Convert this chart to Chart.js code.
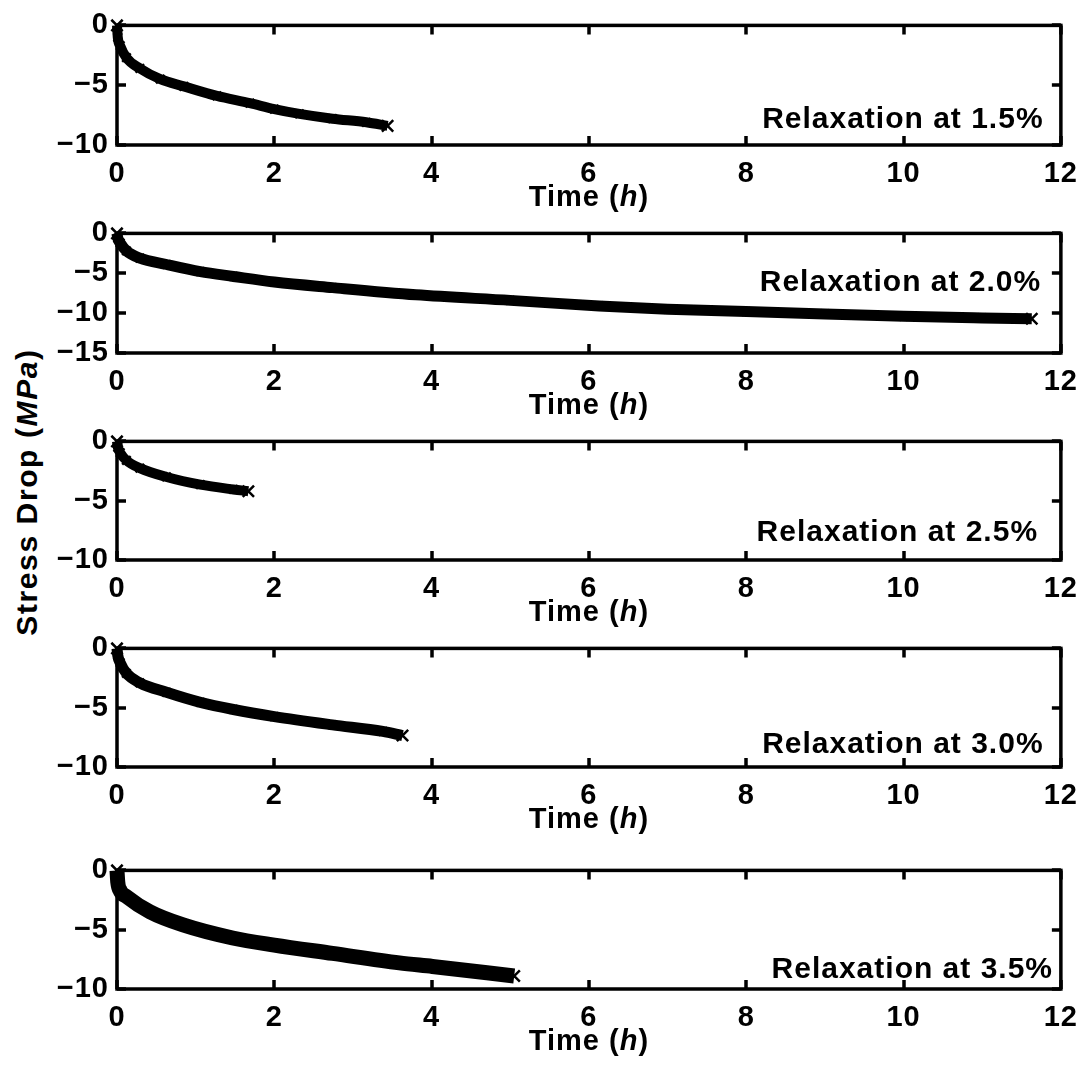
<!DOCTYPE html>
<html>
<head>
<meta charset="utf-8">
<script src="https://cdn.jsdelivr.net/npm/chart.js@4.4.0/dist/chart.umd.min.js"></script>
<style>
  body { margin: 0; background: #fff; width: 1089px; height: 1074px; position: relative; overflow: hidden; }
  canvas.panel { position: absolute; left: 0; }
  #ytitle {
    position: absolute; left: 27px; top: 492px;
    transform: translate(-50%, -50%) rotate(-90deg);
    font: bold 30px "Liberation Sans", Arial, sans-serif;
    letter-spacing: 1.6px; white-space: nowrap; color: #000;
  }
</style>
</head>
<body>
<div id="ytitle">Stress Drop (<i>MPa</i>)</div>
<script>
// relaxation tests: time (h) and stress drop (MPa)
const strainLabels = ['1.5%', '2.0%', '2.5%', '3.0%', '3.5%'];

const time15 = [0, 0.01, 0.04, 0.12, 0.29, 0.55, 0.85, 1.27, 1.69, 2.0, 2.32, 2.74, 3.17, 3.44];
const drop15 = [0, -1.0, -1.7, -2.7, -3.6, -4.5, -5.1, -5.9, -6.5, -7.0, -7.4, -7.8, -8.1, -8.4];

const time20 = [0, 0.01, 0.04, 0.12, 0.29, 0.63, 1.06, 1.48, 2.0, 2.74, 3.8, 5.0, 6.13, 7.0, 8.0, 9.0, 10.0, 11.0, 11.63];
const drop20 = [0, -0.6, -1.2, -2.2, -3.1, -3.9, -4.8, -5.4, -6.1, -6.8, -7.7, -8.4, -9.1, -9.5, -9.8, -10.1, -10.4, -10.6, -10.7];

const time25 = [0, 0.01, 0.04, 0.12, 0.29, 0.63, 1.06, 1.48, 1.67];
const drop25 = [0, -0.5, -0.95, -1.6, -2.25, -3.0, -3.65, -4.05, -4.2];

const time30 = [0, 0.01, 0.04, 0.12, 0.29, 0.63, 1.06, 1.48, 2.0, 2.74, 3.38, 3.63];
const drop30 = [0, -0.6, -1.2, -2.1, -2.9, -3.7, -4.55, -5.15, -5.75, -6.45, -7.0, -7.35];

const time35 = [0, 0.01, 0.04, 0.12, 0.42, 0.84, 1.47, 2.0, 2.74, 3.59, 4.01, 5.05];
const drop35 = [0, -1.0, -1.7, -2.2, -3.5, -4.6, -5.7, -6.3, -7.0, -7.8, -8.1, -8.9];

const yMins = [-10, -15, -10, -10, -10];
const xTickStep = 2;
const yTickStep = 5;

const series = [[time15, drop15], [time20, drop20], [time25, drop25], [time30, drop30], [time35, drop35]];

// layout of each panel (plot area in page pixels)
const panelTop = [15, 223, 431, 638, 860];
const panelBottom = [145, 353, 560, 767, 989];
const bandWidth = [10, 11, 10, 11, 15];
const notePos = [[11.78, -7.9], [11.75, -6.2], [11.71, -7.7], [11.78, -8.1], [11.9, -8.4]];

const FONT = '"Liberation Sans", Arial, sans-serif';
const padTop = 15, axisH = 75, axisW = 117, padRight = 26;

const framePlugin = {
  id: 'frame',
  beforeDraw(chart) {
    chart.ctx.letterSpacing = '1px';
  },
  beforeDatasetsDraw(chart) {
    const { ctx, chartArea: a, scales: { x, y } } = chart;
    ctx.save();
    ctx.strokeStyle = '#000';
    ctx.lineWidth = 3.5;
    ctx.beginPath();
    x.ticks.forEach((t, i) => {
      const px = Math.round(x.getPixelForTick(i));
      ctx.moveTo(px, a.bottom); ctx.lineTo(px, a.bottom - 9);
      ctx.moveTo(px, a.top); ctx.lineTo(px, a.top + 9);
    });
    y.ticks.forEach((t, i) => {
      const py = Math.round(y.getPixelForTick(i));
      ctx.moveTo(a.left, py); ctx.lineTo(a.left + 9, py);
      ctx.moveTo(a.right, py); ctx.lineTo(a.right - 9, py);
    });
    ctx.stroke();
    ctx.strokeRect(a.left, a.top, a.right - a.left, a.bottom - a.top);
    ctx.restore();
  },
  afterDraw(chart) {
    const { ctx, chartArea: a, scales: { x, y } } = chart;
    const idx = chart.options.plugins.frame.index;
    ctx.save();
    ctx.fillStyle = '#000';
    ctx.letterSpacing = '1px';
    ctx.textBaseline = 'middle';
    // x axis title with italic unit
    const parts = [['Time (', 'bold'], ['h', 'italic bold'], [')', 'bold']];
    let total = 0;
    parts.forEach(p => { ctx.font = p[1] + ' 29px ' + FONT; total += ctx.measureText(p[0]).width; });
    let cx = (a.left + a.right) / 2 - total / 2;
    const ty = a.bottom + 53;
    ctx.textAlign = 'left';
    parts.forEach(p => {
      ctx.font = p[1] + ' 29px ' + FONT;
      ctx.fillText(p[0], cx, ty);
      cx += ctx.measureText(p[0]).width;
    });
    // panel note
    ctx.font = 'bold 30px ' + FONT;
    ctx.textAlign = 'right';
    const [nx, ny] = notePos[idx];
    ctx.fillText('Relaxation at ' + strainLabels[idx], x.getPixelForValue(nx), y.getPixelForValue(ny));
    ctx.restore();
  }
};

series.forEach(([times, drops], i) => {
  const plotH = panelBottom[i] - panelTop[i];
  const canvas = document.createElement('canvas');
  canvas.className = 'panel';
  canvas.width = 1089;
  canvas.height = padTop + plotH + axisH;
  canvas.style.top = (panelTop[i] - padTop) + 'px';
  canvas.style.width = '1089px';
  canvas.style.height = canvas.height + 'px';
  document.body.appendChild(canvas);

  const last = times.length - 1;
  new Chart(canvas.getContext('2d'), {
    type: 'line',
    data: {
      datasets: [{
        data: times.map((t, k) => ({ x: t, y: drops[k] })),
        borderColor: '#000',
        backgroundColor: '#000',
        borderWidth: bandWidth[i],
        cubicInterpolationMode: 'monotone',
        pointStyle: 'crossRot',
        pointRadius: c => (c.dataIndex === 0 || c.dataIndex === last) ? 8 : 6,
        pointBorderWidth: 2.5,
        pointBorderColor: '#000',
        clip: false
      }]
    },
    options: {
      responsive: false,
      animation: false,
      layout: { padding: { top: padTop, right: padRight, left: 0, bottom: 0 } },
      plugins: { legend: { display: false }, tooltip: { enabled: false }, frame: { index: i } },
      scales: {
        x: {
          type: 'linear', min: 0, max: 12,
          grid: { display: false, drawTicks: false }, border: { display: false },
          ticks: { stepSize: xTickStep, maxRotation: 0, padding: 12, color: '#000', font: { family: FONT, size: 29, weight: 'bold' } },
          afterFit(s) { s.height = axisH; }
        },
        y: {
          min: yMins[i], max: 0,
          grid: { display: false, drawTicks: false }, border: { display: false },
          ticks: {
            stepSize: yTickStep, padding: 8, color: '#000',
            font: { family: FONT, size: 29, weight: 'bold' },
            callback: v => v < 0 ? '\u2212' + (-v) : String(v)
          },
          afterFit(s) { s.width = axisW; }
        }
      }
    },
    plugins: [framePlugin]
  });
});
</script>
</body>
</html>
